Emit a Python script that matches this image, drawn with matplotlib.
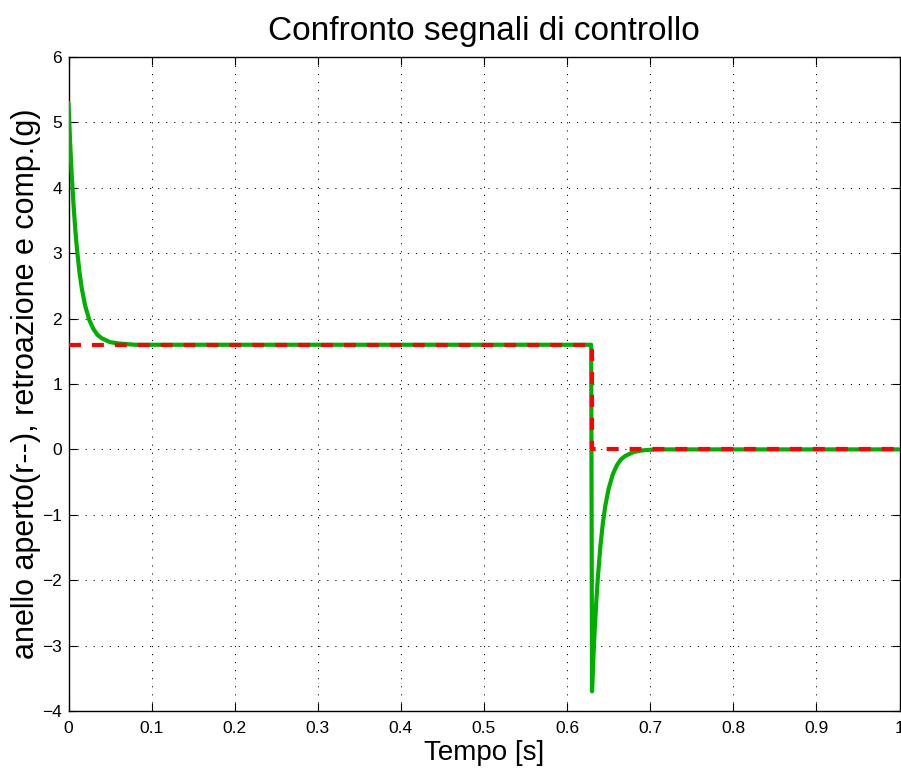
import matplotlib
matplotlib.use("Agg")
import matplotlib.pyplot as plt

plt.rcParams["font.family"] = ["Liberation Sans", "DejaVu Sans"]
plt.rcParams["lines.scale_dashes"] = False

# Closed-loop control signal with compensation (green): decay after start-up,
# then undershoot and recovery after the step at t = 0.63 s
t_closed = [0.000, 0.002, 0.004, 0.006, 0.008, 0.010, 0.013, 0.016, 0.020,
            0.025, 0.030, 0.035, 0.040, 0.050, 0.060, 0.070, 0.080, 0.629,
            0.630, 0.631, 0.632, 0.633, 0.635, 0.637, 0.640, 0.643, 0.646,
            0.650, 0.655, 0.660, 0.665, 0.670, 0.680, 0.690, 0.700, 0.710,
            1.000]
u_closed = [5.30, 4.68, 4.17, 3.75, 3.39, 3.09, 2.73, 2.46, 2.20,
            1.98, 1.84, 1.75, 1.70, 1.64, 1.62, 1.61, 1.60, 1.60,
            -3.70, -3.38, -3.08, -2.82, -2.35, -1.96, -1.49, -1.13, -0.86,
            -0.60, -0.38, -0.24, -0.15, -0.10, -0.04, -0.016, -0.006, 0.00,
            0.00]

# Open-loop control signal (red dashed)
t_open = [0.00, 0.63, 0.63, 1.00]
u_open = [1.60, 1.60, 0.00, 0.00]

x_ticks = [0, 0.1, 0.2, 0.3, 0.4, 0.5, 0.6, 0.7, 0.8, 0.9, 1]
x_tick_labels = ["0", "0.1", "0.2", "0.3", "0.4", "0.5", "0.6", "0.7", "0.8", "0.9", "1"]
y_ticks = [-4, -3, -2, -1, 0, 1, 2, 3, 4, 5, 6]

W, H = 901, 769
fig = plt.figure(figsize=(W / 100, H / 100), dpi=100)
ax = fig.add_axes([68.5 / W, 1 - 711 / H, 831 / W, 654 / H])

ax.plot(t_closed, u_closed, color="#00b000", lw=3.0,
        solid_joinstyle="round", solid_capstyle="round", zorder=3)
ax.plot(t_open, u_open, color="#ff0000", lw=3.0, linestyle=(0, (8.6, 7.9)),
        dash_capstyle="butt", zorder=4)

ax.set_xlim(0, 1)
ax.set_ylim(-4, 6)
ax.set_xticks(x_ticks)
ax.set_xticklabels(x_tick_labels)
ax.set_yticks(y_ticks)

ax.grid(True, color="black", lw=0.7, linestyle=(0, (0.8, 5.0)))
ax.set_axisbelow(True)

ax.tick_params(direction="in", length=5.8, width=0.8, top=True, right=True,
               labelsize=12.5, colors="black")
ax.tick_params(axis="x", pad=7)
ax.tick_params(axis="y", pad=4.7)
for s in ax.spines.values():
    s.set_linewidth(1.0)
    s.set_color("black")

ax.set_title("Confronto segnali di controllo", fontsize=24, pad=12)
ax.set_xlabel("Tempo [s]", fontsize=20, labelpad=3)
ax.set_ylabel("anello aperto(r--), retroazione e comp.(g)", fontsize=22, labelpad=1)

fig.savefig("out.png", dpi=100)
